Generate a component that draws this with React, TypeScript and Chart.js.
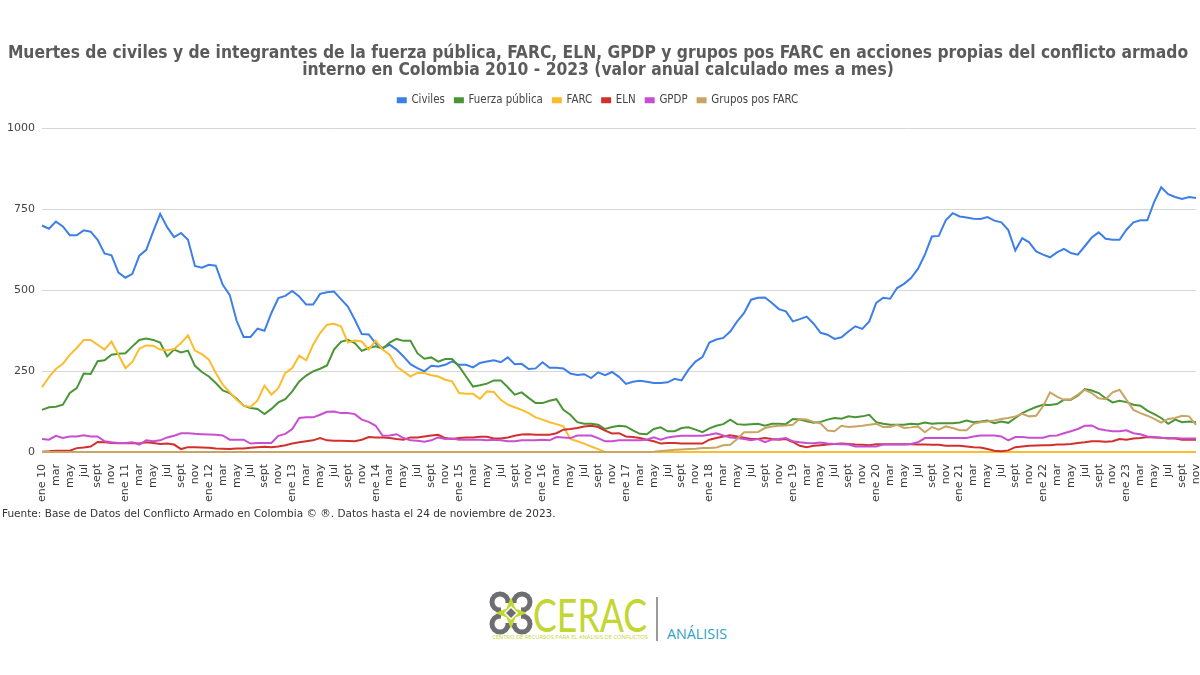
import React, { useEffect, useRef } from "react";
import { Chart, registerables } from "chart.js";

Chart.register(...registerables);

const titleLines = [
  "Muertes de civiles y de integrantes de la fuerza pública, FARC, ELN, GPDP y grupos pos FARC en acciones propias del conflicto armado",
  "interno en Colombia 2010 - 2023 (valor anual calculado mes a mes)",
];

const monthNames = ["ene", "feb", "mar", "abr", "may", "jun", "jul", "ago", "sept", "oct", "nov", "dic"];
const years = [10, 11, 12, 13, 14, 15, 16, 17, 18, 19, 20, 21, 22, 23];
const lastMonthOfLastYear = 10; // nov 23

const categories: string[] = [];
years.forEach((yy, yi) => {
  monthNames.forEach((m, mi) => {
    if (yi === years.length - 1 && mi > lastMonthOfLastYear) return;
    categories.push(mi === 0 ? `${m} ${yy}` : m);
  });
});

const yTicks = [0, 250, 500, 750, 1000];

const civiles = [
  699, 689, 711, 696, 669, 669, 684, 680, 655, 613,
  607, 554, 538, 550, 606, 624, 681, 735, 694, 663,
  676, 655, 574, 569, 578, 575, 516, 485, 405, 355,
  355, 381, 374, 429, 475, 482, 497, 480, 455, 455,
  488, 493, 495, 472, 449, 408, 364, 363, 335, 321,
  331, 316, 295, 271, 259, 249, 266, 264, 269, 280,
  269, 269, 261, 275, 279, 283, 277, 292, 271, 272,
  256, 258, 277, 260, 260, 258, 242, 238, 240, 228,
  246, 237, 247, 232, 210, 217, 220, 217, 213, 213,
  215, 226, 221, 254, 279, 293, 338, 347, 352, 372,
  403, 429, 470, 476, 477, 460, 441, 434, 403, 410,
  418, 396, 368, 362, 349, 354, 372, 388, 380, 403,
  460, 476, 473, 506, 519, 537, 565, 609, 665, 667,
  715, 737, 727, 724, 720, 719, 725, 714, 709, 685,
  622, 660, 647, 619, 609, 601, 616, 627, 614, 609,
  635, 662, 678, 658, 655, 655, 686, 709, 715, 715,
  773, 817, 796, 787, 781, 787, 784,
];

const fuerzaPublica = [
  130, 138, 140, 146, 182, 197, 242, 241, 280, 283,
  300, 303, 305, 326, 346, 350, 346, 338, 295, 316,
  307, 313, 266, 247, 233, 213, 190, 182, 164, 143,
  136, 133, 117, 133, 153, 163, 187, 218, 236, 249,
  257, 267, 316, 340, 346, 336, 312, 321, 326, 319,
  338, 349, 343, 343, 305, 288, 292, 279, 287, 287,
  264, 233, 202, 206, 211, 221, 221, 200, 177, 184,
  167, 151, 151, 158, 163, 130, 115, 92, 87, 87,
  84, 71, 77, 81, 79, 67, 56, 55, 71, 76,
  64, 64, 74, 76, 69, 61, 73, 81, 86, 100,
  86, 84, 86, 87, 81, 87, 87, 86, 102, 100,
  95, 90, 93, 100, 105, 103, 110, 107, 110, 115,
  92, 87, 84, 84, 84, 87, 86, 91, 87, 89,
  89, 89, 91, 97, 92, 94, 97, 89, 94, 90,
  105, 120, 130, 139, 146, 145, 148, 161, 161, 174,
  194, 190, 182, 166, 153, 158, 154, 146, 143, 128,
  117, 105, 87, 100, 92, 94, 92,
];

const farc = [
  200, 231, 256, 272, 300, 321, 346, 346, 331, 316,
  341, 300, 259, 278, 319, 329, 328, 316, 314, 318,
  336, 360, 313, 302, 285, 244, 208, 185, 161, 143,
  139, 159, 205, 177, 197, 244, 259, 297, 283, 331,
  367, 393, 396, 388, 338, 344, 341, 316, 344, 316,
  300, 264, 249, 233, 244, 244, 237, 233, 223, 218,
  182, 180, 180, 164, 187, 185, 161, 146, 138, 130,
  120, 107, 100, 92, 86, 79, 40, 33, 26, 17,
  9, 0, 0, 0, 0, 0, 0, 0, 0, 0,
  0, 0, 0, 0, 0, 0, 0, 0, 0, 0,
  0, 0, 0, 0, 0, 0, 0, 0, 0, 0,
  0, 0, 0, 0, 0, 0, 0, 0, 0, 0,
  0, 0, 0, 0, 0, 0, 0, 0, 0, 0,
  0, 0, 0, 0, 0, 0, 0, 0, 0, 0,
  0, 0, 0, 0, 0, 0, 0, 0, 0, 0,
  0, 0, 0, 0, 0, 0, 0, 0, 0, 0,
  0, 0, 0, 0, 0, 0, 0,
];

const eln = [
  1, 2, 4, 4, 4, 12, 14, 17, 31, 30,
  28, 27, 27, 28, 26, 30, 28, 25, 26, 23,
  9, 15, 15, 14, 13, 11, 10, 9, 11, 11,
  13, 15, 16, 15, 17, 21, 26, 30, 33, 36,
  43, 36, 35, 35, 34, 33, 38, 46, 45, 45,
  43, 40, 38, 45, 45, 48, 51, 53, 43, 40,
  43, 45, 45, 47, 47, 42, 42, 45, 50, 54,
  55, 53, 53, 53, 58, 69, 71, 74, 79, 81,
  77, 66, 57, 58, 48, 46, 43, 38, 33, 26,
  28, 28, 26, 26, 26, 26, 38, 43, 48, 52,
  48, 44, 40, 40, 43, 40, 38, 40, 31, 19,
  15, 19, 21, 23, 25, 26, 25, 23, 22, 21,
  24, 24, 24, 24, 24, 24, 23, 23, 22, 22,
  19, 19, 19, 17, 15, 14, 9, 4, 2, 5,
  15, 17, 19, 20, 21, 21, 23, 23, 25, 28,
  30, 33, 33, 32, 33, 40, 38, 42, 43, 46,
  45, 44, 42, 42, 38, 38, 38,
];

const gpdp = [
  40, 38, 50, 43, 48, 48, 52, 48, 48, 33,
  30, 28, 28, 30, 23, 36, 33, 36, 45, 50,
  58, 58, 56, 55, 54, 53, 51, 38, 38, 38,
  26, 28, 28, 28, 50, 56, 71, 105, 107, 107,
  115, 124, 125, 120, 120, 117, 100, 93, 81, 50,
  51, 55, 43, 36, 35, 32, 36, 45, 40, 42,
  38, 38, 38, 38, 36, 38, 36, 33, 33, 36,
  36, 36, 38, 36, 46, 45, 43, 51, 51, 51,
  43, 33, 33, 36, 36, 36, 36, 38, 45, 38,
  45, 48, 50, 50, 50, 50, 53, 58, 51, 45,
  43, 40, 36, 40, 30, 38, 40, 43, 33, 30,
  28, 27, 29, 26, 25, 24, 23, 17, 17, 17,
  17, 23, 23, 23, 23, 25, 30, 43, 43, 43,
  43, 43, 43, 43, 48, 51, 51, 51, 48, 36,
  46, 46, 44, 44, 44, 50, 51, 58, 64, 71,
  81, 82, 71, 67, 64, 64, 67, 58, 55, 48,
  46, 44, 43, 43, 42, 42, 42,
];

const gruposPosFarc = [
  0, 0, 0, 0, 0, 0, 0, 0, 0, 0,
  0, 0, 0, 0, 0, 0, 0, 0, 0, 0,
  0, 0, 0, 0, 0, 0, 0, 0, 0, 0,
  0, 0, 0, 0, 0, 0, 0, 0, 0, 0,
  0, 0, 0, 0, 0, 0, 0, 0, 0, 0,
  0, 0, 0, 0, 0, 0, 0, 0, 0, 0,
  0, 0, 0, 0, 0, 0, 0, 0, 0, 0,
  0, 0, 0, 0, 0, 0, 0, 0, 0, 0,
  0, 0, 0, 0, 0, 0, 0, 0, 1, 3,
  5, 7, 8, 9, 10, 12, 12, 14, 21, 22,
  40, 61, 61, 62, 74, 79, 81, 82, 84, 102,
  100, 93, 88, 66, 64, 81, 77, 79, 81, 84,
  87, 77, 77, 84, 74, 76, 79, 61, 77, 69,
  79, 74, 67, 67, 87, 92, 94, 97, 102, 105,
  110, 118, 110, 112, 141, 184, 171, 161, 163, 177,
  192, 182, 166, 163, 184, 192, 161, 130, 120, 112,
  102, 91, 102, 105, 112, 110, 84,
];

const seriesNames = ["Civiles", "Fuerza pública", "FARC", "ELN", "GPDP", "Grupos pos FARC"];
const seriesColors = ["#3d7fe6", "#4a9536", "#f9bd2e", "#d2302c", "#c84fd0", "#c9a564"];

const sansFont = "'DejaVu Sans', Verdana, sans-serif";
const condFont = "'DejaVu Sans Condensed', 'DejaVu Sans', sans-serif";

const legendSpacer = {
  id: "legendSpacer",
  beforeInit(chart: any) {
    const legend = chart.legend;
    if (!legend) return;
    const origFit = legend.fit;
    legend.fit = function () {
      origFit.call(this);
      this.height += 12;
    };
  },
};

function LineChart() {
  const ref = useRef<HTMLCanvasElement | null>(null);
  useEffect(() => {
    if (!ref.current) return;
    const values = [civiles, fuerzaPublica, farc, eln, gpdp, gruposPosFarc];
    const chart = new Chart(ref.current, {
      type: "line",
      data: {
        labels: categories,
        datasets: seriesNames.map((name, k) => ({
          label: name,
          data: values[k],
          borderColor: seriesColors[k],
          backgroundColor: seriesColors[k],
          borderWidth: 2,
          pointRadius: 0,
          tension: 0,
          fill: false,
          clip: false,
          order: seriesNames.length - k,
        })),
      },
      options: {
        animation: false,
        responsive: false,
        devicePixelRatio: 1,
        layout: { padding: { left: 0, right: 4, top: 0, bottom: 0 } },
        plugins: {
          title: {
            display: true,
            text: titleLines,
            color: "#5b5b5b",
            font: { family: condFont, size: 17.3, weight: "bold", lineHeight: 1.0 },
            padding: { top: 45, bottom: 5 },
          },
          legend: {
            display: true,
            position: "top",
            labels: {
              boxWidth: 8,
              boxHeight: 4,
              color: "#444",
              font: { family: condFont, size: 11.4 },
              padding: 10,
              sort: (a: any, b: any) => a.datasetIndex - b.datasetIndex,
            },
          },
          tooltip: { enabled: false },
        },
        scales: {
          x: {
            type: "category",
            offset: false,
            grid: { display: false },
            border: { display: false },
            ticks: {
              autoSkip: false,
              maxRotation: 90,
              minRotation: 90,
              padding: 4,
              color: "#3a3a3a",
              font: { family: sansFont, size: 11 },
              callback: (_v: any, i: number) => (i % 2 === 0 ? categories[i] : ""),
            },
            afterFit: (s: any) => {
              s.height = 58;
              s.paddingLeft = 0;
              s.paddingRight = 0;
            },
          },
          y: {
            min: 0,
            max: 1000,
            afterBuildTicks: (s: any) => {
              s.ticks = yTicks.map((v) => ({ value: v }));
            },
            grid: { color: "#d6d6d6", lineWidth: 1, drawTicks: false },
            border: { display: false },
            ticks: {
              padding: 7,
              color: "#444",
              font: { family: sansFont, size: 11 },
              callback: (v: any) => String(v),
            },
            afterFit: (s: any) => {
              s.width = 42;
            },
          },
        },
      },
      plugins: [legendSpacer],
    });
    return () => chart.destroy();
  }, []);
  return (
    <canvas
      ref={ref}
      width={1200}
      height={510}
      style={{ position: "absolute", left: 0, top: 0, width: 1200, height: 510 }}
    />
  );
}

function Logo() {
  const gray = "#6d6e71";
  const lime = "#c4d632";
  return (
    <svg
      width={250}
      height={60}
      viewBox="0 0 250 60"
      style={{ position: "absolute", left: 486, top: 588 }}
    >
      <g fill="none" stroke={gray} strokeWidth={5}>
        <circle cx={14} cy={14} r={8} />
        <circle cx={36} cy={14} r={8} />
        <circle cx={14} cy={36} r={8} />
        <circle cx={36} cy={36} r={8} />
      </g>
      <rect x={15} y={15} width={20} height={20} fill="#ffffff" />
      <polygon points="25,9 29.5,20.5 41,25 29.5,29.5 25,41 20.5,29.5 9,25 20.5,20.5" fill={lime} />
      <polygon points="25,19 31,25 25,31 19,25" fill={gray} stroke="#ffffff" strokeWidth={1.5} />
      <text
        x={47}
        y={44}
        fill={lime}
        fontFamily="'Lato', 'Open Sans', sans-serif"
        fontWeight={400}
        fontSize={46}
        textLength={114}
        lengthAdjust="spacingAndGlyphs"
      >
        CERAC
      </text>
      <text
        x={6}
        y={51}
        fill={lime}
        fontFamily="'Open Sans', sans-serif"
        fontSize={5.5}
        textLength={156}
        lengthAdjust="spacingAndGlyphs"
      >
        CENTRO DE RECURSOS PARA EL ANÁLISIS DE CONFLICTOS
      </text>
      <line x1={171} y1={9} x2={171} y2={53} stroke="#9a9a9a" strokeWidth={2} />
      <text
        x={181}
        y={51}
        fill="#2aa3c4"
        fontFamily="'Open Sans', sans-serif"
        fontSize={14}
        textLength={60}
        lengthAdjust="spacingAndGlyphs"
      >
        ANÁLISIS
      </text>
    </svg>
  );
}

export default function App() {
  return (
    <div
      style={{
        position: "absolute",
        left: 0,
        top: 0,
        width: 1200,
        height: 675,
        background: "#ffffff",
        overflow: "hidden",
      }}
    >
      <LineChart />
      <div
        style={{
          position: "absolute",
          left: 2,
          top: 507,
          fontFamily: sansFont,
          fontSize: 10.5,
          color: "#333",
          whiteSpace: "nowrap",
        }}
      >
        Fuente: Base de Datos del Conflicto Armado en Colombia © ®. Datos hasta el 24 de noviembre de 2023.
      </div>
      <Logo />
    </div>
  );
}
